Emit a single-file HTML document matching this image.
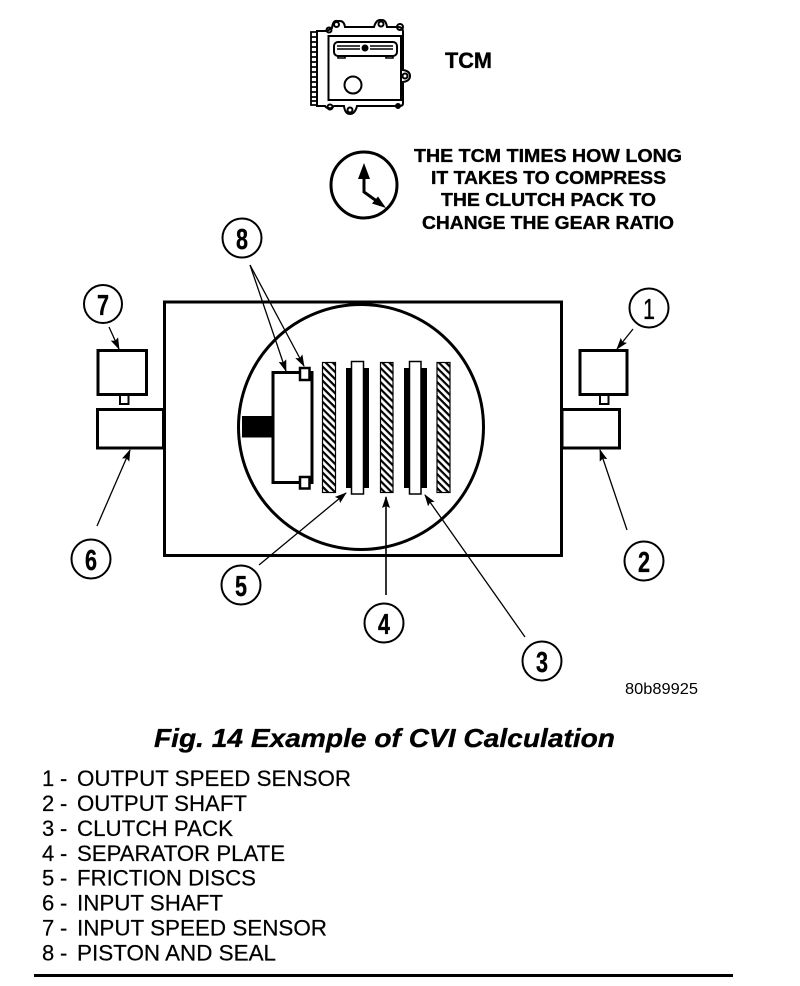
<!DOCTYPE html>
<html><head><meta charset="utf-8"><style>html,body{margin:0;padding:0;background:#fff}svg{display:block}text{font-family:"Liberation Sans",sans-serif;fill:#000}.b text,text.b{stroke:#000;stroke-width:.35px}.r text{stroke:#000;stroke-width:.2px}</style></head><body>
<svg width="800" height="986" viewBox="0 0 800 986" xmlns="http://www.w3.org/2000/svg">
<defs>
<pattern id="h" width="5" height="5" patternUnits="userSpaceOnUse" patternTransform="rotate(45)"><rect width="5" height="5" fill="#fff"/><rect y="0" width="5" height="2.200" fill="#000"/></pattern>
<marker id="a" markerWidth="12" markerHeight="8" refX="11" refY="4" orient="auto" markerUnits="userSpaceOnUse"><path d="M0 0L12 4L0 8L2 4Z" fill="#000"/></marker>
</defs>
<!-- TCM module -->
<g fill="none" stroke="#000" stroke-width="2">
<path d="M317 31H327L332 28Q333 20 337 21H340Q344 21 345 27H374Q376 20 380 20H382Q386 20 387 27L398 27Q403 27 403 32V70Q410 71 410 76Q410 81 403 82V103Q403 106 400 106H357Q355 114 350 114Q345 114 344 106H334Q331 109 329 108Q326 108 325 106H317Z"/>
<rect x="328.500" y="36" width="72.500" height="64"/>
<rect x="334" y="42" width="63" height="14" rx="4"/>
<path d="M337 46H360M337 49H360M370 46H393M370 49H393M338 56V58H345V56M386 56V58H393V56" stroke-width="1.600"/>
<circle cx="353" cy="85" r="8.500"/>
<circle cx="336.500" cy="24.500" r="2.500"/><circle cx="381" cy="24" r="2.500"/><circle cx="400" cy="27" r="3"/><circle cx="405" cy="76" r="2.500"/><circle cx="350" cy="110" r="2.500"/><circle cx="330" cy="107" r="2.500"/><circle cx="329" cy="30" r="2.500"/><circle cx="398" cy="106" r="2"/>
<path d="M317 32H311V105H317M311 37H317M311 42H317M311 47H317M311 52H317M311 57H317M311 62H317M311 67H317M311 72H317M311 77H317M311 82H317M311 87H317M311 92H317M311 97H317M311 101H317" stroke-width="1.800"/>
</g>
<circle cx="365" cy="48" r="3.500" fill="#000"/>
<text class="b" x="445" y="68" font-size="22" font-weight="bold" textLength="47" lengthAdjust="spacingAndGlyphs">TCM</text>
<!-- clock -->
<circle cx="364" cy="185" r="33" fill="none" stroke="#000" stroke-width="3"/>
<path d="M364 175V192L378 202" fill="none" stroke="#000" stroke-width="3"/>
<path d="M364 163L358 179H370Z M386 208L378 196.500L372 203.500Z" fill="#000"/>
<g class="b" font-size="18" font-weight="bold" text-anchor="middle">
<text x="548" y="162" textLength="268" lengthAdjust="spacingAndGlyphs">THE TCM TIMES HOW LONG</text>
<text x="548.500" y="184" textLength="235" lengthAdjust="spacingAndGlyphs">IT TAKES TO COMPRESS</text>
<text x="548.500" y="206" textLength="215" lengthAdjust="spacingAndGlyphs">THE CLUTCH PACK TO</text>
<text x="548" y="229" textLength="252" lengthAdjust="spacingAndGlyphs">CHANGE THE GEAR RATIO</text>
</g>
<!-- housing -->
<rect x="164.500" y="302" width="397" height="253.500" fill="#fff" stroke="#000" stroke-width="3"/>
<g fill="#fff" stroke="#000" stroke-width="3">
<rect x="98" y="350.500" width="48.500" height="44"/>
<rect x="120" y="395" width="8.500" height="9" stroke-width="2"/>
<rect x="97.500" y="409.500" width="66" height="38.500"/>
<rect x="580" y="350.500" width="47" height="44"/>
<rect x="600" y="395" width="8.500" height="9" stroke-width="2"/>
<rect x="562" y="409.500" width="57.500" height="38.500"/>
</g>
<circle cx="361" cy="427" r="122.500" fill="#fff" stroke="#000" stroke-width="3"/>
<!-- piston -->
<rect x="242" y="416" width="31" height="21.500" fill="#000"/>
<rect x="273" y="372.500" width="39" height="110" fill="#fff" stroke="#000" stroke-width="3"/>
<rect x="300" y="368" width="9.500" height="12" fill="#fff" stroke="#000" stroke-width="2.500"/>
<rect x="300" y="477" width="9.500" height="11.500" fill="#fff" stroke="#000" stroke-width="2.500"/>
<!-- plates -->
<g fill="url(#h)" stroke="#000" stroke-width="1.200">
<rect x="322.500" y="362.500" width="13" height="130"/>
<rect x="380.500" y="362.500" width="12.500" height="130"/>
<rect x="437" y="362.500" width="13" height="130"/>
</g>
<rect x="346" y="368" width="23" height="120" fill="#000"/>
<rect x="404" y="368" width="23" height="120" fill="#000"/>
<rect x="351.500" y="361.500" width="12" height="132.500" fill="#fff" stroke="#000" stroke-width="1.500"/>
<rect x="409.500" y="361.500" width="11.500" height="132.500" fill="#fff" stroke="#000" stroke-width="1.500"/>
<!-- leaders -->
<g fill="none" stroke="#000" stroke-width="1.300">
<line x1="250" y1="265" x2="286" y2="371" marker-end="url(#a)"/>
<line x1="250" y1="265" x2="304" y2="366" marker-end="url(#a)"/>
<line x1="109" y1="327" x2="119" y2="349" marker-end="url(#a)"/>
<line x1="633" y1="329" x2="617" y2="349" marker-end="url(#a)"/>
<line x1="97" y1="526" x2="130" y2="450" marker-end="url(#a)"/>
<line x1="627" y1="530" x2="600" y2="450" marker-end="url(#a)"/>
<line x1="259" y1="565" x2="346" y2="493" marker-end="url(#a)"/>
<line x1="386" y1="595" x2="386" y2="497" marker-end="url(#a)" stroke-width="1.600"/>
<line x1="525" y1="637" x2="425" y2="495" marker-end="url(#a)"/>
</g>
<!-- balloons -->
<g fill="#fff" stroke="#000" stroke-width="2">
<circle cx="242" cy="238" r="19.500"/><circle cx="103" cy="304" r="19"/><circle cx="91" cy="559" r="19.500"/><circle cx="649" cy="308" r="19.500"/><circle cx="644" cy="561" r="19.500"/><circle cx="241" cy="585" r="19.500"/><circle cx="384" cy="623" r="19.500"/><circle cx="542" cy="661" r="19.500"/>
</g>
<g class="b" font-size="29" font-weight="bold">
<text x="236" y="249" textLength="12" lengthAdjust="spacingAndGlyphs">8</text>
<text x="97" y="315" textLength="12" lengthAdjust="spacingAndGlyphs">7</text>
<text x="85" y="570" textLength="12" lengthAdjust="spacingAndGlyphs">6</text>
<text x="643" y="319" textLength="12" lengthAdjust="spacingAndGlyphs" font-weight="normal">1</text>
<text x="638" y="572" textLength="12" lengthAdjust="spacingAndGlyphs">2</text>
<text x="235" y="596" textLength="12" lengthAdjust="spacingAndGlyphs">5</text>
<text x="378" y="634" textLength="12" lengthAdjust="spacingAndGlyphs">4</text>
<text x="536" y="672" textLength="12" lengthAdjust="spacingAndGlyphs">3</text>
</g>
<text x="625" y="694" font-size="16" textLength="73" lengthAdjust="spacingAndGlyphs">80b89925</text>
<text class="b" x="154" y="747" font-size="26" font-weight="bold" font-style="italic" textLength="461" lengthAdjust="spacingAndGlyphs">Fig. 14 Example of CVI Calculation</text>
<g class="r" font-size="22">
<text x="42" y="786">1</text><text x="60" y="786">-</text><text x="77" y="786" textLength="274" lengthAdjust="spacingAndGlyphs">OUTPUT SPEED SENSOR</text>
<text x="42" y="811">2</text><text x="60" y="811">-</text><text x="77" y="811" textLength="170" lengthAdjust="spacingAndGlyphs">OUTPUT SHAFT</text>
<text x="42" y="836">3</text><text x="60" y="836">-</text><text x="77" y="836" textLength="156" lengthAdjust="spacingAndGlyphs">CLUTCH PACK</text>
<text x="42" y="861">4</text><text x="60" y="861">-</text><text x="77" y="861" textLength="208" lengthAdjust="spacingAndGlyphs">SEPARATOR PLATE</text>
<text x="42" y="885.500">5</text><text x="60" y="885.500">-</text><text x="77" y="885.500" textLength="179" lengthAdjust="spacingAndGlyphs">FRICTION DISCS</text>
<text x="42" y="910.500">6</text><text x="60" y="910.500">-</text><text x="77" y="910.500" textLength="146" lengthAdjust="spacingAndGlyphs">INPUT SHAFT</text>
<text x="42" y="935.500">7</text><text x="60" y="935.500">-</text><text x="77" y="935.500" textLength="250" lengthAdjust="spacingAndGlyphs">INPUT SPEED SENSOR</text>
<text x="42" y="960.500">8</text><text x="60" y="960.500">-</text><text x="77" y="960.500" textLength="199" lengthAdjust="spacingAndGlyphs">PISTON AND SEAL</text>
</g>
<rect x="34" y="974" width="699" height="3" fill="#000"/>
</svg>
</body></html>
